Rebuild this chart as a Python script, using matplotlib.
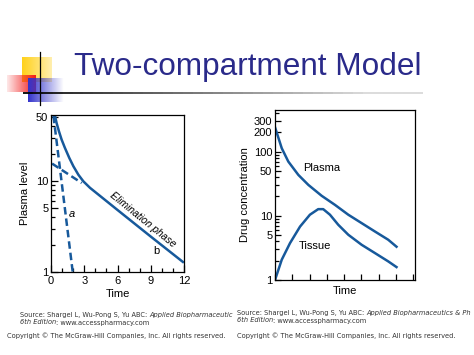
import numpy as np
import matplotlib.pyplot as plt
from matplotlib.ticker import FixedLocator, FixedFormatter, LogLocator, NullFormatter

plt.rcParams['font.family'] = ['Liberation Sans', 'DejaVu Sans']

# left panel: plasma level (log) vs time
t_total = [0.36, 0.51, 0.72, 0.96, 1.26, 1.65, 2.02, 2.47, 2.92, 3.52, 6.0, 9.0, 11.9]
c_total = [52, 43, 35, 28.4, 23, 17.9, 14.5, 11.7, 9.9, 8.4, 4.8, 2.45, 1.29]
t_a = [0.22, 1.96]
c_a = [52, 1]
t_b = [0.1, 2.77]
c_b = [15.5, 9.5]
left_yticks = [1, 5, 10, 50]
left_xticks = [0, 3, 6, 9, 12]

# right panel: drug concentration (log) vs time
t_right = [0, 0.39, 0.77, 1.35, 1.93, 2.70, 3.47, 4.24, 5.01, 5.78, 6.55, 7.03]
plasma = [240, 113, 70, 43.4, 30.3, 20.5, 14.8, 10.4, 7.7, 5.7, 4.24, 3.3]
t_tissue = [0, 0.39, 0.87, 1.45, 2.02, 2.50, 2.79, 3.18, 3.66, 4.24, 5.01, 5.78, 6.55, 7.03]
tissue = [1.0, 2.07, 3.76, 6.8, 10.4, 12.7, 12.7, 10.4, 7.25, 5.07, 3.54, 2.63, 1.95, 1.59]
right_yticks = [1, 5, 10, 50, 100, 200, 300]

blue = '#17599b'
W, H = 474, 355
fig = plt.figure(figsize=(W / 100, H / 100), dpi=100)

# slide decoration in pixel coordinates
bg = fig.add_axes([0, 0, 1, 1])
bg.set_xlim(0, W)
bg.set_ylim(H, 0)
bg.axis('off')

def grad(x0, x1, y0, y1, rgb, a0, a1):
    alpha = np.linspace(a0, a1, 64)
    img = np.zeros((1, 64, 4))
    img[0, :, :3] = rgb
    img[0, :, 3] = alpha
    bg.imshow(img, extent=(x0, x1, y1, y0), aspect='auto', interpolation='bilinear', zorder=1)

grad(22, 52, 57, 82, (1.0, 0.82, 0.1), 1.0, 0.35)
grad(7, 36, 75, 92, (0.95, 0.1, 0.1), 0.1, 1.0)
grad(28, 64, 78, 102, (0.2, 0.2, 0.8), 1.0, 0.0)
bg.plot([40, 40], [52, 105], color='black', lw=0.9, zorder=3)
for i in range(40):
    xa = 23 + i * 10
    g = min(0.85, i / 40)
    bg.plot([xa, xa + 10], [92.5, 92.5], color=(g, g, g), lw=1.3, zorder=3,
            solid_capstyle='butt')

fig.text(248 / W, 1 - 67 / H, 'Two-compartment Model', ha='center', va='center',
         fontsize=22.7, color='#2a2a8a')

# left chart
ax1 = fig.add_axes([51 / W, 1 - 272 / H, 133 / W, 157 / H])
ax1.plot(t_total, c_total, color=blue, lw=1.8)
ax1.plot(t_a, c_a, color=blue, lw=1.8, ls=(0, (3, 1.6)))
ax1.plot(t_b, c_b, color=blue, lw=1.8, ls=(0, (3, 1.6)))
ax1.set_yscale('log')
ax1.set_xlim(0, 12)
ax1.set_ylim(1, 53)
ax1.yaxis.set_major_locator(FixedLocator(left_yticks))
ax1.yaxis.set_major_formatter(FixedFormatter([str(v) for v in left_yticks]))
ax1.yaxis.set_minor_locator(LogLocator(subs=np.arange(2, 10)))
ax1.yaxis.set_minor_formatter(NullFormatter())
ax1.set_xticks(left_xticks)
ax1.set_xticks(range(0, 13), minor=True)
ax1.tick_params(direction='in', labelsize=8, length=5, width=0.9, pad=2)
ax1.tick_params(which='minor', direction='in', length=3, width=0.9)
ax1.tick_params(axis='x', pad=3)
ax1.set_xlabel('Time', fontsize=8, labelpad=2)
ax1.set_ylabel('Plasma level', fontsize=8, labelpad=4)
ax1.text(1.92, 4.3, 'a', fontsize=8, style='italic', ha='center', va='center')
ax1.text(9.5, 1.68, 'b', fontsize=8, ha='center', va='center')
ax1.text(8.3, 3.75, 'Elimination phase', fontsize=7.5, style='italic', rotation=-39,
         ha='center', va='center', rotation_mode='anchor')
for s in ax1.spines.values():
    s.set_linewidth(0.9)

# right chart
ax2 = fig.add_axes([275 / W, 1 - 280 / H, 140 / W, 170 / H])
ax2.plot(t_right, plasma, color=blue, lw=1.8)
ax2.plot(t_tissue, tissue, color=blue, lw=1.8)
ax2.set_yscale('log')
ax2.set_xlim(0, 8.1)
ax2.set_ylim(1, 445)
ax2.yaxis.set_major_locator(FixedLocator(right_yticks))
ax2.yaxis.set_major_formatter(FixedFormatter([str(v) for v in right_yticks]))
ax2.yaxis.set_minor_locator(LogLocator(subs=np.arange(2, 10)))
ax2.yaxis.set_minor_formatter(NullFormatter())
ax2.set_xticks(range(0, 9))
ax2.set_xticklabels([])
ax2.tick_params(direction='in', labelsize=8, length=4, width=0.9, pad=2)
ax2.tick_params(which='minor', direction='in', length=3, width=0.9)
ax2.set_xlabel('Time', fontsize=8, labelpad=2)
ax2.set_ylabel('Drug concentration', fontsize=8, labelpad=3)
ax2.text(1.6, 56, 'Plasma', fontsize=8, va='center')
ax2.text(1.35, 3.4, 'Tissue', fontsize=8, va='center')
for s in ax2.spines.values():
    s.set_linewidth(0.9)

# footer credits (both copies are cut short on the slide)
renderer = fig.canvas.get_renderer()

def rich_line(x, y, parts):
    # parts: list of (text, italic); pieces are laid out one after another on one baseline
    px = x
    for txt, it in parts:
        t = fig.text(px / W, 1 - y / H, txt, fontsize=4.8, color='#333333',
                     family='DejaVu Sans', style='italic' if it else 'normal',
                     va='baseline')
        bb = t.get_window_extent(renderer)
        px += bb.width

rich_line(20, 316.5, [('Source: Shargel L, Wu-Pong S, Yu ABC: ', False),
                      ('Applied Biopharmaceutic', True)])
rich_line(20, 324.5, [('6th Edition', True), (': www.accesspharmacy.com', False)])
rich_line(7, 338, [('Copyright \u00a9 The McGraw-Hill Companies, Inc. All rights reserved.', False)])
rich_line(237, 314.5, [('Source: Shargel L, Wu-Pong S, Yu ABC: ', False),
                       ('Applied Biopharmaceutics & Ph', True)])
rich_line(237, 322.5, [('6th Edition', True), (': www.accesspharmacy.com', False)])
rich_line(237, 338, [('Copyright \u00a9 The McGraw-Hill Companies, Inc. All rights reserved.', False)])

fig.savefig('out.png', dpi=100)
